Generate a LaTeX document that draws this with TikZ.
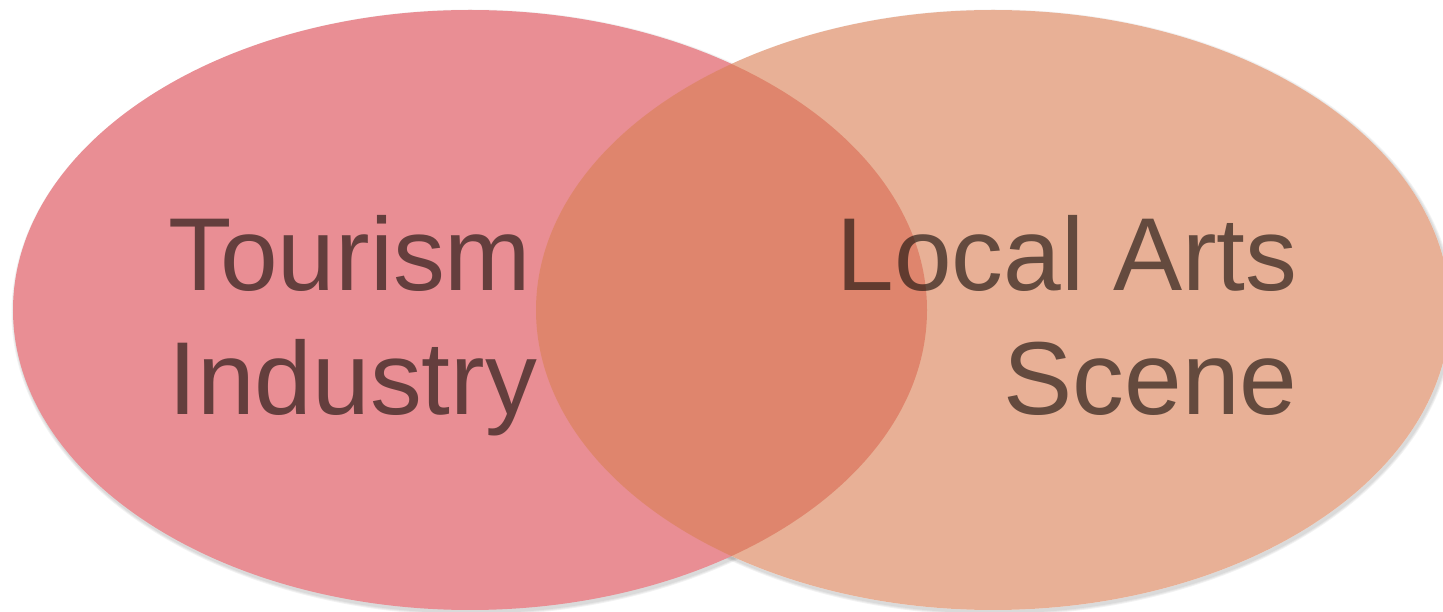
\documentclass[tikz,border=0pt]{standalone}
\usepackage{fontspec}
\setmainfont{Liberation Sans}
\usetikzlibrary{positioning}

\definecolor{tourismfill}{RGB}{233,142,148}
\definecolor{artsfill}{RGB}{218,129,86}
\definecolor{labeltext}{RGB}{30,20,15}

\begin{document}
\begin{tikzpicture}[
    shadowring/.style={fill=black, fill opacity=0.05},
    tourism/.style={fill=tourismfill},
    arts/.style={fill=artsfill, fill opacity=0.62},
    label/.style={font=\fontsize{59}{71}\selectfont, text=labeltext, text opacity=0.65, inner sep=0pt}
]

% Canvas
\clip (0,0) rectangle (28.86,12.24);
\coordinate (tourismc) at (9.4,6.04);
\coordinate (artsc) at (19.86,6.04);

% Soft shadow under both sets
\foreach \k in {1,2,3} {
    \fill[shadowring] ([shift={(0.03,-0.05)}]tourismc) ellipse [x radius=9.14+0.02*\k, y radius=6.0+0.02*\k];
    \fill[shadowring] ([shift={(0.03,-0.05)}]artsc) ellipse [x radius=9.14+0.02*\k, y radius=6.0+0.02*\k];
}
% keep the shadow from showing through the right set
\fill[white] (artsc) ellipse [x radius=9.14, y radius=6.0];

% Left Set: Tourism Industry
\fill[tourism] (tourismc) ellipse [x radius=9.14, y radius=6.0];

% Right Set: Local Arts Scene
\fill[arts] (artsc) ellipse [x radius=9.14, y radius=6.0];

% Labels
\node[label, align=left, anchor=base west] (tourismlabel) at (3.36,3.94) {Tourism\\Industry};
\node[label, align=right, anchor=base east] (artslabel) at (25.96,3.94) {Local Arts\\Scene};

\end{tikzpicture}
\end{document}
